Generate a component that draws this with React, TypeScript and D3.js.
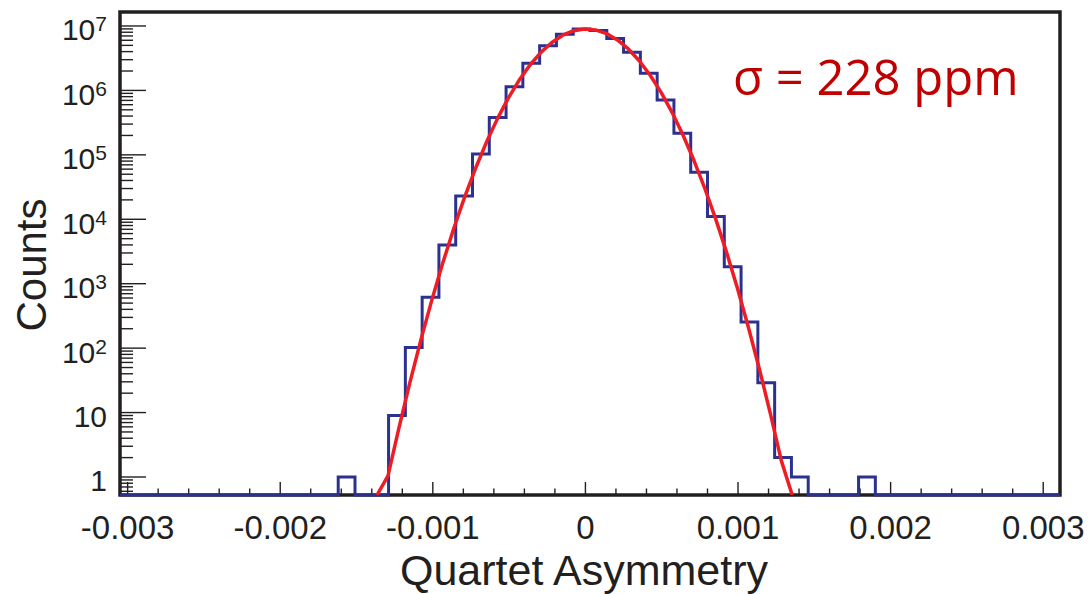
import React from "react";
import * as d3 from "d3";

// ---- Data ----
const binLow = -0.00305;
const binWidth = 0.00011;
const binCounts = [
  0, 0, 0, 0, 0, 0, 0, 0, 0, 0,
  0, 0, 0, 1, 0, 0, 9, 102, 615, 3990,
  22970, 103000, 380000, 1140000, 2640000, 4940000, 7430000, 8980000, 8510000, 6400000,
  3910000, 1840000, 710000, 216000, 53600, 11000, 1840, 255, 29, 2,
  1, 0, 0, 0, 1, 0, 0, 0, 0, 0,
  0, 0, 0, 0, 0, 0,
];

// Gaussian fit parameters
const fitAmp = 9.0e6;
const fitMean = 0.000006;
const fitSigma = 0.00023;
const fitLow = -0.0013656;
const fitStep = 0.0000716;
const fitPoints = 39;

const xDomain = [-0.00305, 0.00311];
const yDomain = [Math.pow(10, -0.2794), Math.pow(10, 7.217)];
const xMajorTicks = [-0.003, -0.002, -0.001, 0, 0.001, 0.002, 0.003];
const xTickLabels = ["-0.003", "-0.002", "-0.001", "0", "0.001", "0.002", "0.003"];
const yMajorExps = [0, 1, 2, 3, 4, 5, 6, 7];

const sigmaLabel = "σ = 228 ppm";
const xTitle = "Quartet Asymmetry";
const yTitle = "Counts";

// ---- Layout ----
const W = 1092;
const H = 594;
const L = 120, R = 1060, T = 12, B = 495;

const axisColor = "#231f20";
const histColor = "#2b3190";
const fitColor = "#ee1c25";
const textRed = "#c00000";
const font = "'Liberation Sans', Arial, Helvetica, sans-serif";

export default function App() {
  const x = d3.scaleLinear().domain(xDomain).range([L, R]);
  const y = d3.scaleLog().domain(yDomain).range([B, T]);

  // Histogram outline
  const histPts: [number, number][] = [];
  binCounts.forEach((c, i) => {
    const yy = c > 0 ? y(c) : B;
    histPts.push([x(binLow + i * binWidth), yy]);
    histPts.push([x(binLow + (i + 1) * binWidth), yy]);
  });
  const histPath = d3.line()(histPts) || "";

  // Fit curve
  const fitPts: [number, number][] = d3.range(fitPoints).map((i) => {
    const xv = fitLow + i * fitStep;
    let v = fitAmp * Math.exp(-((xv - fitMean) ** 2) / (2 * fitSigma * fitSigma));
    v = Math.max(v, yDomain[0]);
    return [x(xv), y(v)];
  });
  const fitPath = d3.line()(fitPts) || "";

  // Y ticks
  const yMinor: number[] = [];
  for (let d = -1; d <= 7; d++) {
    for (let k = 2; k <= 9; k++) {
      const v = k * Math.pow(10, d);
      if (v >= yDomain[0] && v <= yDomain[1]) yMinor.push(v);
    }
  }
  // X minor ticks
  const xMinor: number[] = d3.range(-15, 16).map((k) => k * 0.0002).filter((v) => v >= xDomain[0] && v <= xDomain[1]);

  return (
    <div style={{ position: "absolute", left: 0, top: 0 }}>
      <svg width={W} height={H} style={{ display: "block", background: "#fff" }}>
        <defs>
          <clipPath id="frameClip">
            <rect x={L} y={T} width={R - L} height={B - T} />
          </clipPath>
        </defs>
        {/* y ticks */}
        {yMajorExps.map((e) => (
          <line key={"ym" + e} x1={L} x2={L + 26} y1={y(Math.pow(10, e))} y2={y(Math.pow(10, e))} stroke={axisColor} strokeWidth={1.4} />
        ))}
        {yMinor.map((v, i) => (
          <line key={"yn" + i} x1={L} x2={L + 13} y1={y(v)} y2={y(v)} stroke={axisColor} strokeWidth={1.4} />
        ))}
        {/* x ticks */}
        {xMinor.map((v, i) => {
          const major = xMajorTicks.some((m) => Math.abs(m - v) < 1e-9);
          return (
            <line key={"xt" + i} x1={x(v)} x2={x(v)} y1={B} y2={B - (major ? 13 : 6.5)} stroke={axisColor} strokeWidth={1.4} />
          );
        })}
        {/* frame */}
        <rect x={L} y={T} width={R - L} height={B - T} fill="none" stroke={axisColor} strokeWidth={3.5} />
        {/* histogram */}
        <path d={histPath} fill="none" stroke={histColor} strokeWidth={3} strokeLinejoin="miter" />
        {/* fit */}
        <path d={fitPath} fill="none" stroke={fitColor} strokeWidth={3.5} clipPath="url(#frameClip)" strokeLinejoin="round" />
        {/* y labels */}
        {yMajorExps.map((e) => {
          const ty = y(Math.pow(10, e)) + 14.5;
          if (e === 0) return <text key={"yl" + e} x={107} y={ty} textAnchor="end" fontFamily={font} fontSize={30} fill={axisColor}>1</text>;
          if (e === 1) return <text key={"yl" + e} x={107} y={ty} textAnchor="end" fontFamily={font} fontSize={30} fill={axisColor}>10</text>;
          return (
            <text key={"yl" + e} x={107} y={ty} textAnchor="end" fontFamily={font} fontSize={30} fill={axisColor}>
              10<tspan dy={-9} fontSize={21}>{String(e)}</tspan>
            </text>
          );
        })}
        {/* x labels */}
        {xMajorTicks.map((v, i) => (
          <text key={"xl" + i} x={x(v)} y={539} textAnchor="middle" fontFamily={font} fontSize={33} fill={axisColor}>{xTickLabels[i]}</text>
        ))}
        {/* titles */}
        <text x={584} y={585} textAnchor="middle" fontFamily={font} fontSize={43} fill={axisColor}>{xTitle}</text>
        <text transform="translate(46,265) rotate(-90)" textAnchor="middle" fontFamily={font} fontSize={42} fill={axisColor}>{yTitle}</text>
        <text x={733} y={95} fontFamily="'Open Sans', sans-serif" fontSize={49} fill={textRed}>{sigmaLabel}</text>
      </svg>
    </div>
  );
}
